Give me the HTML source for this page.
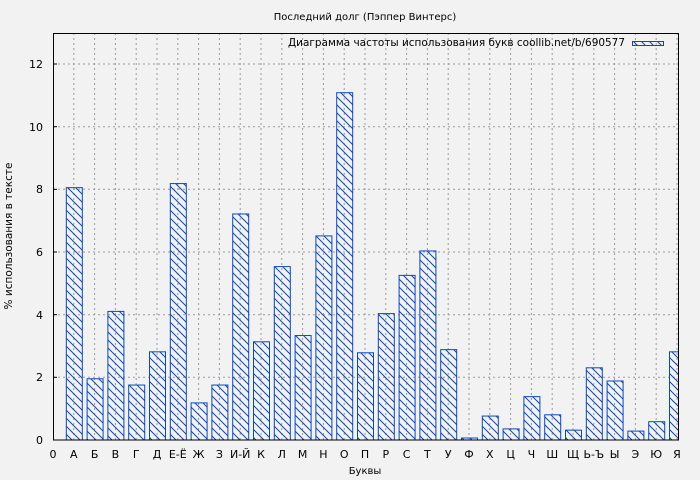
<!DOCTYPE html>
<html><head><meta charset="utf-8"><style>
html,body{margin:0;padding:0;background:#f2f2f2;}
svg{display:block;font-family:"DejaVu Sans","Liberation Sans",sans-serif;}
</style></head><body>
<svg width="700" height="480" viewBox="0 0 700 480" xmlns="http://www.w3.org/2000/svg">
<defs>
<pattern id="h" patternUnits="userSpaceOnUse" width="8" height="8">
<path d="M-2,-2 L10,10 M-2,6 L2,10 M6,-2 L10,2" stroke="#0a48c8" stroke-width="1"/>
</pattern>
<clipPath id="c"><rect x="53" y="33" width="626" height="407"/></clipPath>
</defs>
<rect width="700" height="480" fill="#f2f2f2"/>
<text x="365" y="20" font-size="10" text-anchor="middle" fill="#000">Последний долг (Пэппер Винтерс)</text>
<g stroke="#999" stroke-dasharray="2,3" stroke-width="1">
<line x1="53" x2="679" y1="377.3" y2="377.3"/><line x1="53" x2="679" y1="314.7" y2="314.7"/>
<line x1="53" x2="679" y1="252" y2="252"/><line x1="53" x2="679" y1="189.3" y2="189.3"/>
<line x1="53" x2="679" y1="126.7" y2="126.7"/><line x1="53" x2="679" y1="64" y2="64"/>
</g>
<g id="vg" stroke="#999" stroke-dasharray="2,3" stroke-width="1"></g>
<g clip-path="url(#c)" id="bars" fill="url(#h)" stroke="#0a48c8" stroke-width="1"></g>
<rect x="53.5" y="33.5" width="625" height="406.5" fill="none" stroke="#000"/>
<g id="lab" font-size="11" text-anchor="middle"></g>
<g font-size="11" text-anchor="end">
<text x="43" y="444">0</text><text x="43" y="381">2</text><text x="43" y="319">4</text>
<text x="43" y="256">6</text><text x="43" y="193">8</text><text x="43" y="131">10</text><text x="43" y="68">12</text>
</g>
<g stroke="#000"><line x1="53" x2="57" y1="377.3" y2="377.3"/><line x1="53" x2="57" y1="314.7" y2="314.7"/><line x1="53" x2="57" y1="252" y2="252"/><line x1="53" x2="57" y1="189.3" y2="189.3"/><line x1="53" x2="57" y1="126.7" y2="126.7"/><line x1="53" x2="57" y1="64" y2="64"/></g>
<text x="365" y="474" font-size="10" text-anchor="middle">Буквы</text>
<text transform="translate(12,236) rotate(-90)" font-size="10.5" text-anchor="middle">% использования в тексте</text>
<text x="288" y="46" font-size="10.5" textLength="337" lengthAdjust="spacingAndGlyphs">Диаграмма частоты использования букв coollib.net/b/690577</text>
<rect x="632.5" y="41.5" width="31" height="4" fill="url(#h)" stroke="#0a48c8"/>
<script>
var L=["А","Б","В","Г","Д","Е-Ё","Ж","З","И-Й","К","Л","М","Н","О","П","Р","С","Т","У","Ф","Х","Ц","Ч","Ш","Щ","Ь-Ъ","Ы","Э","Ю","Я"];
var V=[8.07,1.97,4.12,1.77,2.83,8.2,1.2,1.77,7.23,3.15,5.55,3.35,6.53,11.1,2.8,4.05,5.27,6.05,2.9,0.08,0.78,0.37,1.4,0.82,0.33,2.32,1.9,0.3,0.6,2.83];
var ns="http://www.w3.org/2000/svg",b=document.getElementById("bars"),g=document.getElementById("vg"),lb=document.getElementById("lab");
function el(t,a,p){var e=document.createElementNS(ns,t);for(var k in a)e.setAttribute(k,a[k]);p.appendChild(e);return e;}
var t0=el("text",{x:53,y:458},lb);t0.textContent="0";
for(var i=0;i<30;i++){var c=53+20.8*(i+1);var h=V[i]*31.333;
el("line",{x1:c,x2:c,y1:33,y2:440},g);
el("rect",{x:c-8+0.5,y:440-h+0.5,width:16,height:h},b);
var t=el("text",{x:c,y:458},lb);t.textContent=L[i];}
</script>
</svg>
</body></html>
